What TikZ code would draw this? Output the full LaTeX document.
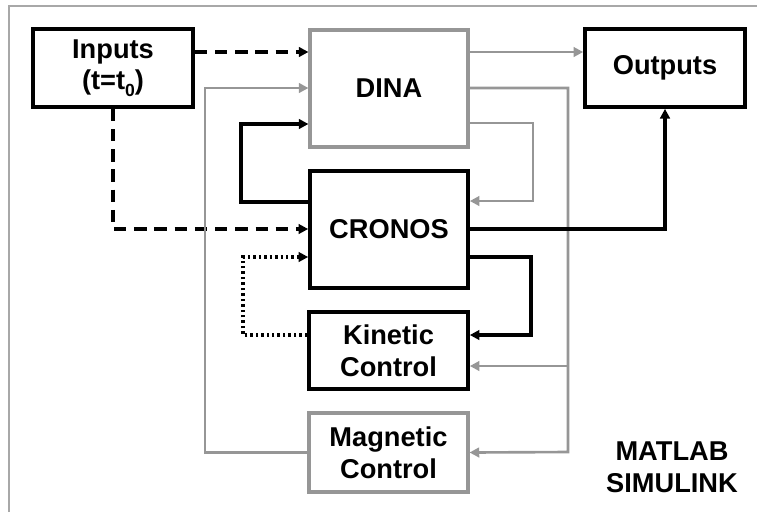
\documentclass[tikz,border=0pt]{standalone}
\usepackage{fontspec}
\setmainfont{Liberation Sans}
\usetikzlibrary{arrows.meta}
\definecolor{gris}{HTML}{969696}
\definecolor{marco}{HTML}{A8A8A8}

\begin{document}
\begin{tikzpicture}[x=0.02cm, y=-0.02cm, >={Triangle[length=5.5pt,width=5.5pt]},
  font=\fontsize{15.5}{18}\selectfont\bfseries,
  caja/.style={draw, line width=2.1pt, align=center, inner sep=0pt},
  cajagris/.style={caja, draw=gris, line width=1.8pt},
  negra/.style={->, line width=1.9pt},
  flechagris/.style={->, gris, line width=1.5pt},
  discont/.style={->, line width=2pt, dash pattern=on 7pt off 4.5pt},
  punteado/.style={->, line width=1.9pt, dash pattern=on 1.4pt off 1.7pt}]
  % Fondo y marco
  \useasboundingbox (0,0) rectangle (757,512);
  \draw[marco, line width=0.6pt] (9,512) -- (9,6) -- (757,6);

  % Bloques
  \node[caja, minimum width=3.2cm, minimum height=1.56cm] (inputs) at (113,68) {Inputs\\(t=t\raisebox{-0.45ex}{\fontsize{10}{10}\selectfont 0})};
  \node[cajagris, minimum width=3.16cm, minimum height=2.34cm] (dina) at (389,88.5) {DINA};
  \node[caja, minimum width=3.2cm, minimum height=1.56cm] (outputs) at (665,68) {Outputs};
  \node[caja, minimum width=3.16cm, minimum height=2.34cm] (cronos) at (389,229.5) {CRONOS};
  \node[caja, minimum width=3.18cm, minimum height=1.54cm] (kinetic) at (388.5,350.5) {Kinetic\\Control};
  \node[cajagris, minimum width=3.18cm, minimum height=1.58cm] (magnetic) at (388.5,452.5) {Magnetic\\Control};
  \node[align=center] (matlab) at (672,467) {MATLAB\\SIMULINK};

  % Entradas (t=t0)
  \draw[discont] (inputs.east |- 0,52) -- (dina.west |- 0,52);
  \draw[discont] (inputs.south) |- (cronos.west |- 0,229);

  % Salidas de DINA
  \draw[flechagris] (dina.east |- 0,52) -- (outputs.west |- 0,52);
  \draw[flechagris] (dina.east |- 0,88) -| (568,452) -- (magnetic.east);
  \draw[flechagris] (568,366) -- (kinetic.east |- 0,366);
  \draw[flechagris] (dina.east |- 0,123) -| (533,201) -- (cronos.east |- 0,201);
  \draw[flechagris] (magnetic.west) -| (205,88) -- (dina.west |- 0,88);

  % Salidas de CRONOS
  \draw[negra] (cronos.east |- 0,229) -| (outputs.south);
  \draw[negra] (cronos.east |- 0,257) -| (531,335) -- (kinetic.east |- 0,335);
  \draw[negra] (cronos.west |- 0,202) -| (241,124) -- (dina.west |- 0,124);

  % Control cinetico
  \draw[punteado] (kinetic.west |- 0,335) -| (243,257) -- (cronos.west |- 0,257);
\end{tikzpicture}
\end{document}
